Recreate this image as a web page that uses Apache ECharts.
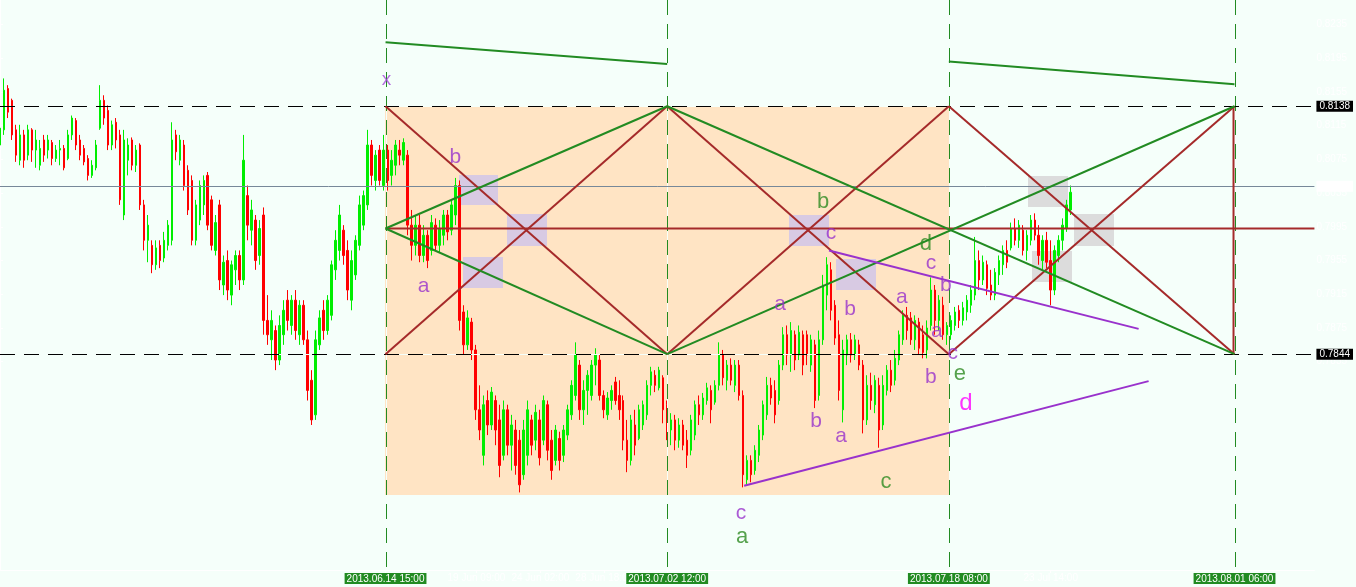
<!DOCTYPE html>
<html><head><meta charset="utf-8">
<script src="https://cdn.jsdelivr.net/npm/echarts@6/dist/echarts.min.js"></script>
<style>html,body{margin:0;padding:0;background:#F5FFFA;}#c{width:1356px;height:587px;}</style>
</head><body><div id="c"></div>
<script>
// Prices are in points (0.0001). Time axis is in H1 bar numbers from the chart's left edge.
const barStepHours = 4;
const bars = [ // [open, close, low, high]
[8092,8112,8086,8118],[8110,8157,8104,8171],[8159,8131,8124,8163],[8145,8104,8098,8147],[8110,8080,8072,8116],
[8074,8104,8068,8116],[8104,8074,8065,8110],[8080,8110,8074,8116],[8110,8086,8072,8112],[8086,8098,8065,8110],
[8068,8088,8062,8098],[8098,8080,8072,8104],[8086,8098,8076,8104],[8095,8076,8068,8098],[8076,8086,8072,8092],
[8086,8088,8068,8098],[8088,8065,8062,8092],[8076,8104,8074,8110],[8104,8124,8098,8127],[8121,8092,8086,8124],
[8098,8080,8074,8104],[8088,8072,8068,8092],[8076,8056,8050,8080],[8056,8068,8053,8074],[8065,8092,8062,8098],
[8112,8145,8110,8163],[8145,8124,8116,8151],[8133,8092,8086,8139],[8092,8116,8086,8121],[8119,8098,8088,8124],
[8104,8027,8021,8110],[8009,8098,8003,8110],[8074,8092,8056,8100],[8098,8068,8062,8101],[8068,8086,8060,8092],
[8092,8021,8015,8094],[8021,7979,7967,8027],[7979,7997,7953,8009],[7973,7950,7940,7979],[7950,7970,7944,7979],
[7973,7955,7946,7979],[7958,7979,7953,7989],[7973,7997,7967,8003],[7979,8098,7973,8119],[8104,8084,8074,8110],
[8074,8098,8068,8104],[8092,8044,8038,8098],[8062,8015,8009,8068],[8050,7979,7973,8056],[7979,8021,7973,8027],
[8003,8044,7997,8050],[8021,8050,8009,8056],[8056,7997,7991,8060],[8027,7973,7967,8032],[7967,8000,7961,8009],
[8021,7932,7920,8027],[7926,7953,7914,7961],[7955,7920,7908,7967],[7914,7950,7902,7955],[7944,7961,7926,7967],
[7961,7932,7920,7967],[7932,8074,7926,8104],[8032,7997,7979,8044],[7991,8015,7973,8027],[8003,7955,7944,8009],
[7961,7993,7950,8003],
[8009,7884,7867,8018],[7884,7867,7855,7914],[7861,7884,7837,7896],[7872,7837,7825,7878],[7837,7878,7831,7890],
[7867,7896,7855,7908],[7908,7884,7872,7920],[7878,7908,7867,7914],[7908,7872,7861,7920],[7867,7902,7855,7908],
[7902,7861,7855,7908],[7861,7801,7789,7872],[7813,7766,7760,7825],[7772,7861,7766,7872],[7855,7887,7849,7896],
[7896,7872,7861,7908],[7872,7908,7867,7914],[7890,7950,7884,7955],[7944,7979,7932,7991],[7967,8009,7955,8021],
[7991,7961,7950,7997],[7967,7920,7908,7979],[7908,7955,7896,7967],[7938,7979,7932,7985],[7973,8021,7967,8032],
[7997,8032,7991,8038],[8021,8092,8015,8110],[8092,8056,8044,8098],[8050,8080,8038,8086],[8086,8050,8044,8092],
[8044,8086,8038,8104],[8086,8050,8038,8092],[8056,8074,8044,8086],[8068,8092,8056,8098],[8086,8080,8068,8098],
[8074,8095,8068,8100],[8080,7997,7985,8086],[7997,7973,7955,8015],[7973,7997,7961,8009],[7997,7961,7953,8009],
[7961,7985,7953,7997],[7985,7955,7946,7991],[7967,8000,7961,8009],[7997,7973,7967,8005],[7973,7993,7965,8003],
[7985,8009,7973,8015],[8009,7989,7979,8015],[7991,8021,7985,8027],[8009,8044,7997,8053],[8044,7884,7872,8050],
[7894,7855,7843,7902],[7855,7887,7849,7896],[7882,7849,7837,7887],[7849,7778,7766,7855],[7778,7754,7742,7807],
[7724,7784,7712,7795],[7789,7760,7748,7801],[7760,7799,7754,7805],[7789,7754,7736,7795],[7766,7712,7698,7784],
[7724,7778,7718,7789],[7778,7736,7724,7784],[7736,7760,7706,7772],[7754,7712,7701,7766],[7742,7689,7680,7754],
[7701,7754,7695,7766],[7724,7778,7712,7789],[7766,7736,7724,7772],[7742,7775,7730,7784],[7766,7721,7712,7778],
[7742,7789,7736,7795],[7784,7730,7718,7789],[7742,7706,7695,7754],[7718,7754,7712,7760],[7744,7718,7706,7752],
[7724,7754,7716,7760],[7748,7778,7742,7784],[7772,7807,7766,7813],[7795,7843,7789,7858],[7831,7778,7766,7837],
[7778,7801,7760,7813],[7801,7819,7772,7825],[7795,7831,7789,7837],[7831,7843,7807,7851],[7837,7795,7789,7843],
[7795,7778,7768,7801],[7772,7792,7766,7799],[7789,7801,7778,7807],[7811,7789,7784,7817],[7795,7778,7766,7813],
[7789,7742,7730,7795],[7742,7718,7704,7766],[7718,7766,7712,7772],[7760,7736,7724,7778],[7744,7778,7742,7784],
[7760,7784,7754,7789],[7772,7807,7766,7813],[7807,7823,7795,7829],[7819,7807,7799,7825],[7804,7825,7801,7829],
[7816,7778,7762,7819],[7784,7754,7742,7789],[7754,7766,7736,7774],[7766,7742,7730,7772],[7742,7760,7733,7768],
[7760,7736,7730,7766],[7742,7724,7709,7754],[7730,7766,7724,7772],[7748,7784,7742,7789],[7784,7772,7760,7795],
[7772,7792,7766,7798],[7789,7804,7784,7810],[7801,7778,7762,7807],[7787,7807,7784,7813],[7807,7843,7801,7858],
[7843,7816,7807,7849],[7813,7831,7801,7837],[7831,7813,7807,7839],[7807,7831,7799,7837],[7831,7795,7789,7837],
[7795,7701,7686,7801],[7695,7718,7689,7724],[7718,7701,7692,7724],[7706,7730,7701,7736],[7724,7754,7716,7760],
[7748,7784,7742,7789],[7772,7807,7766,7817],[7807,7792,7784,7816],[7801,7772,7762,7813],[7789,7831,7784,7837],
[7831,7867,7825,7876],[7867,7843,7831,7878],[7843,7872,7823,7882],[7867,7837,7825,7872],[7843,7870,7837,7878],
[7867,7831,7819,7872],[7867,7843,7831,7872],[7831,7861,7823,7867],[7855,7789,7780,7861],[7795,7861,7789,7872],
[7861,7926,7855,7938],[7914,7950,7896,7959],[7944,7896,7884,7953],[7902,7863,7855,7908],[7867,7801,7789,7884],
[7778,7849,7763,7861],[7843,7861,7831,7867],[7861,7843,7834,7869],[7843,7861,7837,7867],[7855,7831,7825,7861],
[7831,7766,7750,7837],[7766,7807,7760,7819],[7807,7789,7778,7822],[7784,7813,7774,7819],[7807,7754,7733,7816],
[7760,7807,7754,7819],[7801,7825,7795,7831],[7825,7807,7799,7837],[7813,7839,7807,7849],[7837,7867,7831,7872],
[7861,7890,7855,7896],[7890,7872,7861,7900],[7887,7861,7855,7894],[7861,7884,7849,7890],[7882,7851,7843,7887],
[7867,7846,7839,7878],[7849,7875,7839,7884],[7878,7920,7872,7935],[7920,7884,7867,7926],[7884,7908,7872,7914],
[7902,7867,7861,7912],[7867,7878,7855,7882],[7867,7884,7861,7890],[7878,7894,7872,7900],[7896,7884,7875,7902],
[7884,7899,7878,7906],[7894,7908,7884,7914],[7902,7920,7893,7926],[7914,7955,7908,7983],[7955,7932,7920,7967],
[7932,7953,7926,7961],[7950,7922,7914,7955],[7926,7914,7908,7944],[7914,7941,7908,7946],[7938,7955,7926,7961],
[7950,7967,7938,7973],[7967,7953,7946,7979],[7970,7993,7967,8000],[7993,7979,7973,8005],[7979,7997,7970,8003],
[7991,7967,7961,7997],[7967,7985,7955,7991],[7979,8003,7973,8009],[8003,7985,7979,8011],[7985,7961,7950,7997],
[7955,7979,7944,7985],[7979,7953,7946,7989],[7955,7920,7902,7979],[7920,7967,7914,7973],[7961,7979,7953,7985],
[7979,7997,7967,8005],[7993,8021,7989,8027],[8015,8036,8009,8044]
];

const timeAxisMax = 1316;
const priceAxisMin = 7588, priceAxisMax = 8264;
const dateTickHours = [386, 668, 950, 1236];
const dateTickLabels = ['2013.06.14 15:00', '2013.07.02 12:00', '2013.07.18 08:00', '2013.08.01 06:00'];
const minorTickHours = [477, 541, 605, 1052];
const minorTickLabels = ['19 Jun 09:00', '24 Jun 02:00', '28 Jun 18:00', '23 Jul 14:00'];
const priceTicks = [7835, 7875, 7915, 7955, 7995, 8035, 8075, 8115, 8155, 8195, 8235];
const boxHigh = 8138, boxLow = 7844, boxMid = 7993, blueLevel = 8043;
const verticalHours = [386, 668, 950, 1236];

const orangeRects = [[385, 950, 8138, 7677]];           // [t1, t2, p1, p2]
const lavenderBoxes = [[460,499,8057,8021],[508,548,8010,7972],[464,504,7959,7922],[790,830,8009,7972],[837,877,7957,7920]];
const grayBoxes = [[1029,1069,8055,8018],[1033,1073,7966,7929],[1075,1115,8010,7972]];

const brownSegs = [ // [t1, p1, t2, p2]
  [386,8138,668,7844],[386,7844,668,8138],[668,8138,950,7844],[668,7844,950,8138],
  [950,8138,1236,7844],[950,7844,1236,8138],[1235,8138,1235,7844],[386,boxMid,1316,boxMid]
];
const greenSegs = [
  [386,boxMid,668,8138],[386,boxMid,668,7844],[668,8138,1236,7844],[668,7844,1236,8138],
  [386,8214,668,8188],[950,8191,1236,8164]
];
const purpleSegs = [[745,7688,1150,7812],[830,7967,1140,7874]];

const purpleLabels = [ // [t, price, text]
  [456,8078,'b'],[424,7924,'a'],[832,7988,'c'],[932,7952,'c'],[947,7926,'b'],[903,7912,'a'],
  [851,7897,'b'],[781,7903,'a'],[938,7871,'a'],[954,7845,'c'],[932,7817,'b'],[817,7765,'b'],
  [842,7747,'a'],[742,7655,'c']
];
const xLabels = [[387,8169,'x']];
const greenLabels = [[824,8025,'b'],[927,7975,'d'],[961,7820,'e'],[887,7693,'c'],[743,7627,'a']];
const magentaLabels = [[967,7786,'d']];

const BG = '#F5FFFA';
const FONT = 'Liberation Sans, Arial, sans-serif';

const candleData = bars.map((b, i) => [i * barStepHours, b[0], b[1], b[2], b[3]]);

function rectSeries(data, color, z) {
  return {
    type: 'custom', z: z, silent: true, clip: true,
    encode: { x: [0, 1], y: [2, 3] },
    data: data,
    renderItem: function (params, api) {
      const a = api.coord([api.value(0), api.value(2)]);
      const b = api.coord([api.value(1), api.value(3)]);
      return { type: 'rect',
        shape: { x: Math.round(Math.min(a[0], b[0])), y: Math.round(Math.min(a[1], b[1])),
                 width: Math.round(Math.abs(b[0] - a[0])), height: Math.round(Math.abs(b[1] - a[1])) },
        style: { fill: color } };
    }
  };
}
function segSeries(data, color, width, z) {
  return {
    type: 'custom', z: z, silent: true, clip: true,
    encode: { x: [0, 2], y: [1, 3] },
    data: data,
    renderItem: function (params, api) {
      const a = api.coord([api.value(0), api.value(1)]);
      const b = api.coord([api.value(2), api.value(3)]);
      return { type: 'line', shape: { x1: a[0], y1: a[1], x2: b[0], y2: b[1] },
        style: { stroke: color, lineWidth: width } };
    }
  };
}
function hLineSeries(levels, color, dash, under, z) {
  return {
    type: 'custom', z: z, silent: true, clip: true,
    encode: { x: 0, y: 1 },
    data: levels.map(v => [0, v]),
    renderItem: function (params, api) {
      const cs = params.coordSys;
      const y = Math.round(api.coord([0, api.value(1)])[1]) + 0.5;
      const ch = [];
      if (under) ch.push({ type: 'line', shape: { x1: cs.x, y1: y, x2: cs.x + cs.width, y2: y }, style: { stroke: under, lineWidth: 1 } });
      ch.push({ type: 'line', shape: { x1: cs.x, y1: y, x2: cs.x + cs.width, y2: y }, style: { stroke: color, lineWidth: 1, lineDash: dash } });
      return { type: 'group', children: ch };
    }
  };
}
function vLineSeries(hours, color, dash, under, z) {
  return {
    type: 'custom', z: z, silent: true, clip: true,
    encode: { x: 0, y: 1 },
    data: hours.map(h => [h, 8000]),
    renderItem: function (params, api) {
      const cs = params.coordSys;
      const x = Math.round(api.coord([api.value(0), 8000])[0]) + 0.5;
      const ch = [];
      if (under) ch.push({ type: 'line', shape: { x1: x, y1: cs.y, x2: x, y2: cs.y + cs.height }, style: { stroke: under, lineWidth: 1 } });
      ch.push({ type: 'line', shape: { x1: x, y1: cs.y, x2: x, y2: cs.y + cs.height }, style: { stroke: color, lineWidth: 1, lineDash: dash } });
      return { type: 'group', children: ch };
    }
  };
}
function labelSeries(data, color, size, z) {
  return {
    type: 'scatter', z: z, silent: true, symbolSize: 1,
    itemStyle: { color: 'rgba(0,0,0,0)' },
    data: data.map(d => ({ value: [d[0], d[1]], name: d[2] })),
    label: { show: true, position: 'inside', formatter: '{b}', color: color, fontSize: size, fontFamily: FONT }
  };
}

const chart = echarts.init(document.getElementById('c'), null, { renderer: 'canvas' });
chart.setOption({
  animation: false,
  backgroundColor: BG,
  grid: { left: 0, right: 40, top: 0, bottom: 17, containLabel: false },
  xAxis: {
    type: 'value', min: 0, max: timeAxisMax,
    splitLine: { show: false },
    axisLine: { show: true, onZero: false, lineStyle: { color: '#ffffff', width: 1 } },
    axisTick: { show: true, customValues: minorTickHours.concat(dateTickHours), length: 3, lineStyle: { color: '#ffffff' } },
    axisLabel: {
      customValues: minorTickHours.concat(dateTickHours),
      margin: 3, fontFamily: FONT, fontSize: 10, color: '#ffffff',
      formatter: function (v) {
        let i = dateTickHours.indexOf(v);
        if (i >= 0) return '{g|' + dateTickLabels[i] + '}';
        i = minorTickHours.indexOf(v);
        return i >= 0 ? '{w|' + minorTickLabels[i] + '}' : '';
      },
      rich: {
        g: { backgroundColor: '#228B22', color: '#ffffff', fontSize: 10, lineHeight: 11, padding: [1, 2, 0, 2], fontFamily: FONT },
        w: { color: '#ffffff', fontSize: 10, fontFamily: FONT }
      }
    }
  },
  yAxis: {
    type: 'value', position: 'right', min: priceAxisMin, max: priceAxisMax,
    splitLine: { show: false },
    axisLine: { show: true, lineStyle: { color: '#ffffff', width: 1 } },
    axisTick: { show: true, customValues: priceTicks, length: 3, lineStyle: { color: '#ffffff' } },
    axisLabel: {
      customValues: priceTicks.concat([blueLevel, boxHigh, boxLow]),
      margin: 2, fontFamily: FONT, fontSize: 10, color: '#ffffff',
      formatter: function (v) {
        const s = (v / 10000).toFixed(4);
        if (v === boxHigh || v === boxLow) return '{k|' + s + '}';
        if (v === blueLevel) return '{w|' + s + '}';
        return s;
      },
      rich: {
        k: { backgroundColor: '#000000', color: '#ffffff', fontSize: 10, lineHeight: 10, padding: [1, 3, 0, 3], fontFamily: FONT },
        w: { backgroundColor: '#ffffff', color: '#ffffff', fontSize: 10, lineHeight: 10, padding: [1, 3, 0, 3], fontFamily: FONT }
      }
    }
  },
  series: [
    rectSeries(orangeRects, '#FFE4C4', 1),
    rectSeries(lavenderBoxes, '#D8CAE3', 2),
    rectSeries(grayBoxes, '#DCDCDC', 2),
    {
      type: 'candlestick', z: 3, silent: true, barWidth: 2,
      encode: { x: 0, y: [1, 2, 3, 4] },
      data: candleData,
      itemStyle: { color: '#00EE00', color0: '#FF0000', borderColor: '#00EE00', borderColor0: '#FF0000', borderWidth: 1 }
    },
    vLineSeries(verticalHours, '#228B22', [15, 9], BG, 4),
    hLineSeries([boxHigh, boxLow], '#000000', [15, 9], BG, 4),
    hLineSeries([blueLevel], '#778899', null, null, 4),
    segSeries(brownSegs, '#A52A2A', 2, 5),
    segSeries(greenSegs, '#228B22', 2, 5),
    segSeries(purpleSegs, '#9932CC', 2, 5),
    labelSeries(purpleLabels, '#9932CC', 21, 6),
    labelSeries(xLabels, '#A64BD9', 19, 6),
    labelSeries(greenLabels, '#2E8B22', 22, 6),
    labelSeries(magentaLabels, '#FF00FF', 24, 6)
  ]
});
</script>
</body></html>
